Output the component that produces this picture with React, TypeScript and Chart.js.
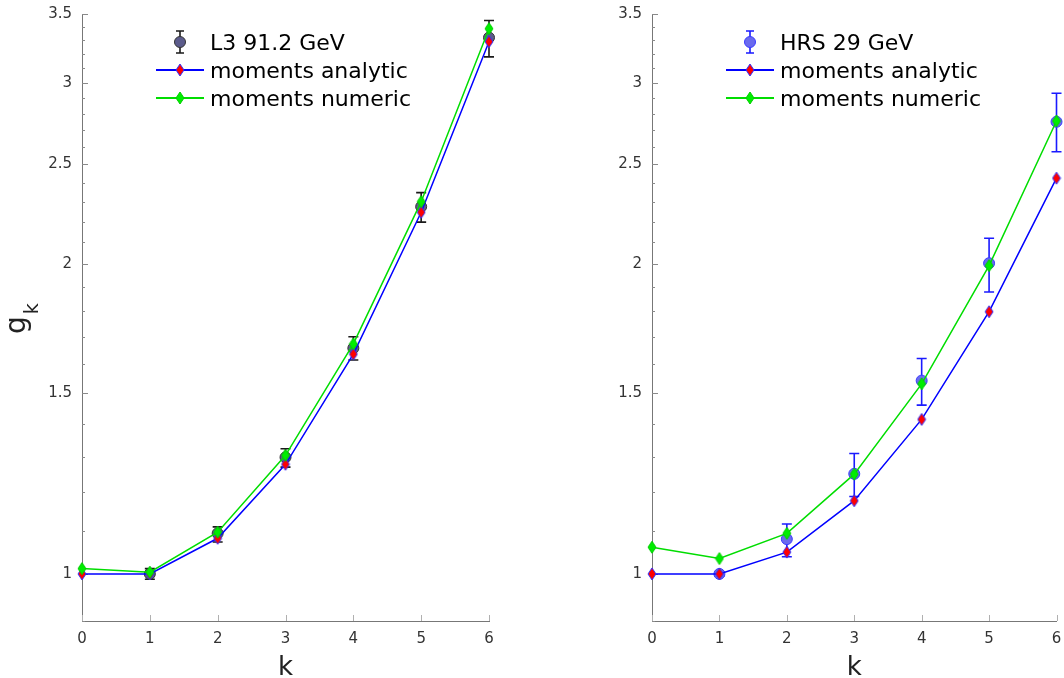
import React, { useEffect, useRef } from "react";
import { Chart, registerables } from "chart.js";

Chart.register(...registerables);

// ---------- data ----------
const K_VALUES = [0, 1, 2, 3, 4, 5, 6];

const L3_K = [1, 2, 3, 4, 5, 6];
const L3_G = [1.0, 1.095, 1.298, 1.657, 2.274, 3.32];
const L3_LO = [0.988, 1.074, 1.27, 1.614, 2.197, 3.18];
const L3_HI = [1.012, 1.111, 1.323, 1.7, 2.347, 3.45];
const LEFT_ANALYTIC = [1.0, 1.0, 1.083, 1.278, 1.635, 2.246, 3.29];
const LEFT_NUMERIC = [1.012, 1.004, 1.098, 1.304, 1.673, 2.3, 3.387];

const HRS_K = [1, 2, 3, 4, 5, 6];
const HRS_G = [1.0, 1.081, 1.251, 1.541, 2.004, 2.75];
const HRS_LO = [0.995, 1.039, 1.189, 1.459, 1.879, 2.572];
const HRS_HI = [1.005, 1.118, 1.309, 1.619, 2.119, 2.931];
const RIGHT_ANALYTIC = [1.0, 1.0, 1.05, 1.178, 1.413, 1.798, 2.424];
const RIGHT_NUMERIC = [1.0615, 1.035, 1.095, 1.25, 1.53, 1.993, 2.755];

const Y_MAJOR_TICKS = [1, 1.5, 2, 2.5, 3, 3.5];
const Y_MINOR_STEPS = [9, 10, 11, 12, 13, 14, 15, 16, 17, 18, 19, 20, 21, 22, 23, 24, 25, 26, 27, 28, 29, 30, 31, 32, 33, 34, 35];
const X_TICKS = [0, 1, 2, 3, 4, 5, 6];
const Y_MIN = 0.9;
const Y_MAX = 3.5;

const FONT = "'DejaVu Sans', sans-serif";

function makeDiamond(fill: string, stroke: string) {
  const c = document.createElement("canvas");
  c.width = 10;
  c.height = 14;
  const g = c.getContext("2d")!;
  g.beginPath();
  g.moveTo(5, 1);
  g.lineTo(9, 7);
  g.lineTo(5, 13);
  g.lineTo(1, 7);
  g.closePath();
  g.fillStyle = fill;
  g.fill();
  g.lineWidth = 1;
  g.strokeStyle = stroke;
  g.stroke();
  return c;
}

type PanelProps = {
  left: number;
  dataLabel: string;
  dataFill: string;
  dataEdge: string;
  barColor: string;
  dataK: number[];
  dataG: number[];
  dataLo: number[];
  dataHi: number[];
  analytic: number[];
  numeric: number[];
  showYTitle: boolean;
  yWidth: number;
  rightPad: number;
};

function Panel(p: PanelProps) {
  const ref = useRef<HTMLCanvasElement>(null);
  useEffect(() => {
    const redD = makeDiamond("#ff0000", "#3030ff");
    const greenD = makeDiamond("#00ee00", "#00cc00");
    const blue = "#0000ff";
    const green = "#00dd00";

    const overlay = {
      id: "overlay",
      beforeDatasetsDraw(chart: any) {
        const ctx = chart.ctx;
        const xs = chart.scales.x;
        const ys = chart.scales.y;
        const ca = chart.chartArea;
        ctx.save();
        // inward tick marks
        ctx.strokeStyle = "#8a8a8a";
        ctx.lineWidth = 1;
        Y_MINOR_STEPS.forEach((s) => {
          const v = s / 10;
          const major = Y_MAJOR_TICKS.includes(v);
          const y = Math.round(ys.getPixelForValue(v)) + 0.5;
          ctx.beginPath();
          ctx.moveTo(ca.left, y);
          ctx.lineTo(ca.left + (major ? 6 : 3), y);
          ctx.stroke();
        });
        ctx.strokeStyle = "#b0b0b0";
        X_TICKS.forEach((v) => {
          const x = Math.round(xs.getPixelForValue(v)) + 0.5;
          ctx.beginPath();
          ctx.moveTo(x, ca.bottom);
          ctx.lineTo(x, ca.bottom - 6);
          ctx.stroke();
        });
        // error bars
        ctx.strokeStyle = p.barColor;
        ctx.lineWidth = 1.6;
        p.dataK.forEach((k, i) => {
          const x = xs.getPixelForValue(k);
          const y1 = ys.getPixelForValue(p.dataLo[i]);
          const y2 = ys.getPixelForValue(p.dataHi[i]);
          ctx.beginPath();
          ctx.moveTo(x, y1);
          ctx.lineTo(x, y2);
          ctx.moveTo(x - 5, y1);
          ctx.lineTo(x + 5, y1);
          ctx.moveTo(x - 5, y2);
          ctx.lineTo(x + 5, y2);
          ctx.stroke();
        });
        ctx.restore();
      },
      afterDraw(chart: any) {
        const ctx = chart.ctx;
        const ca = chart.chartArea;
        ctx.save();
        // legend
        const mx = ca.left + 98;
        const rows = [ca.top + 28, ca.top + 56, ca.top + 84];
        const tx = mx + 30;
        ctx.strokeStyle = p.barColor;
        ctx.lineWidth = 1.6;
        ctx.beginPath();
        ctx.moveTo(mx, rows[0] - 11);
        ctx.lineTo(mx, rows[0] + 11);
        ctx.moveTo(mx - 4, rows[0] - 11);
        ctx.lineTo(mx + 4, rows[0] - 11);
        ctx.moveTo(mx - 4, rows[0] + 11);
        ctx.lineTo(mx + 4, rows[0] + 11);
        ctx.stroke();
        ctx.beginPath();
        ctx.arc(mx, rows[0], 5.5, 0, Math.PI * 2);
        ctx.fillStyle = p.dataFill;
        ctx.fill();
        ctx.strokeStyle = p.dataEdge;
        ctx.lineWidth = 1;
        ctx.stroke();
        const lineRow = (y: number, col: string, img: HTMLCanvasElement) => {
          ctx.strokeStyle = col;
          ctx.lineWidth = 2;
          ctx.beginPath();
          ctx.moveTo(mx - 24, y);
          ctx.lineTo(mx + 24, y);
          ctx.stroke();
          ctx.drawImage(img, mx - img.width / 2, y - img.height / 2);
        };
        lineRow(rows[1], blue, redD);
        lineRow(rows[2], green, greenD);
        ctx.fillStyle = "#000";
        ctx.font = `22px ${FONT}`;
        ctx.textAlign = "left";
        ctx.textBaseline = "alphabetic";
        ctx.fillText(p.dataLabel, tx, rows[0] + 8);
        ctx.fillText("moments analytic", tx, rows[1] + 7.5);
        ctx.fillText("moments numeric", tx, rows[2] + 7.5);

        // x title
        ctx.fillStyle = "#222";
        ctx.font = `26px ${FONT}`;
        ctx.textAlign = "center";
        ctx.fillText("k", (ca.left + ca.right) / 2, 675);

        // y title
        if (p.showYTitle) {
          ctx.translate(25, 334);
          ctx.rotate(-Math.PI / 2);
          ctx.textAlign = "left";
          ctx.font = `28px ${FONT}`;
          ctx.fillText("g", 0, 0);
          const gw = ctx.measureText("g").width;
          ctx.font = `19px ${FONT}`;
          ctx.fillText("k", gw + 2, 13);
        }
        ctx.restore();
      },
    };

    const chart = new Chart(ref.current!, {
      type: "line",
      data: {
        datasets: [
          {
            label: "moments numeric",
            data: K_VALUES.map((k, i) => ({ x: k, y: p.numeric[i] })),
            borderColor: green,
            borderWidth: 1.5,
            pointStyle: greenD as any,
            pointRadius: 6,
            order: 0,
            clip: false as any,
          },
          {
            label: "moments analytic",
            data: K_VALUES.map((k, i) => ({ x: k, y: p.analytic[i] })),
            borderColor: blue,
            borderWidth: 1.5,
            pointStyle: redD as any,
            pointRadius: 6,
            order: 1,
            clip: false as any,
          },
          {
            label: p.dataLabel,
            data: p.dataK.map((k, i) => ({ x: k, y: p.dataG[i] })),
            showLine: false,
            pointStyle: "circle",
            pointRadius: 5.5,
            backgroundColor: p.dataFill,
            borderColor: p.dataEdge,
            borderWidth: 1,
            order: 2,
            clip: false as any,
          },
        ],
      },
      options: {
        responsive: false,
        animation: false,
        devicePixelRatio: 1,
        layout: { padding: { left: 0, right: p.rightPad, top: 14, bottom: 0 } },
        plugins: { legend: { display: false }, tooltip: { enabled: false } },
        scales: {
          x: {
            type: "linear",
            min: 0,
            max: 6,
            afterBuildTicks: (s: any) => {
              s.ticks = X_TICKS.map((v) => ({ value: v }));
            },
            afterFit: (s: any) => {
              s.height = 57;
              s.paddingLeft = 0;
              s.paddingRight = 0;
            },
            ticks: {
              font: { family: FONT, size: 15 },
              color: "#333",
              padding: 9,
              autoSkip: false,
              maxRotation: 0,
              callback: (v: any) => String(v),
            },
            grid: { display: false, drawTicks: false },
            border: { display: true, color: "#777", width: 1 },
          },
          y: {
            type: "logarithmic",
            min: Y_MIN,
            max: Y_MAX,
            afterBuildTicks: (s: any) => {
              s.ticks = Y_MINOR_STEPS.map((st) => ({ value: st / 10 }));
            },
            afterFit: (s: any) => {
              s.width = p.yWidth;
              s.paddingTop = 0;
              s.paddingBottom = 0;
            },
            ticks: {
              font: { family: FONT, size: 15 },
              color: "#333",
              padding: 10,
              autoSkip: false,
              callback: (v: any) => (Y_MAJOR_TICKS.includes(Number(v)) ? String(v) : ""),
            },
            grid: { display: false, drawTicks: false },
            border: { display: true, color: "#777", width: 1 },
          },
        },
      },
      plugins: [overlay],
    } as any);
    return () => chart.destroy();
  }, []);
  return (
    <canvas
      ref={ref}
      width={532}
      height={678}
      style={{ position: "absolute", left: p.left, top: 0, width: 532, height: 678, display: "block" }}
    />
  );
}

export default function App() {
  return (
    <div style={{ position: "absolute", left: 0, top: 0, width: 1064, height: 678, background: "#fff", overflow: "hidden" }}>
      <Panel
        left={0}
        dataLabel="L3 91.2 GeV"
        dataFill="#5c5c8c"
        dataEdge="#333333"
        barColor="#1a1a1a"
        dataK={L3_K}
        dataG={L3_G}
        dataLo={L3_LO}
        dataHi={L3_HI}
        analytic={LEFT_ANALYTIC}
        numeric={LEFT_NUMERIC}
        showYTitle={true}
        yWidth={82}
        rightPad={43}
      />
      <Panel
        left={532}
        dataLabel="HRS 29 GeV"
        dataFill="#6a6aee"
        dataEdge="#3a3aff"
        barColor="#1a1aff"
        dataK={HRS_K}
        dataG={HRS_G}
        dataLo={HRS_LO}
        dataHi={HRS_HI}
        analytic={RIGHT_ANALYTIC}
        numeric={RIGHT_NUMERIC}
        showYTitle={false}
        yWidth={120}
        rightPad={6}
      />
    </div>
  );
}
